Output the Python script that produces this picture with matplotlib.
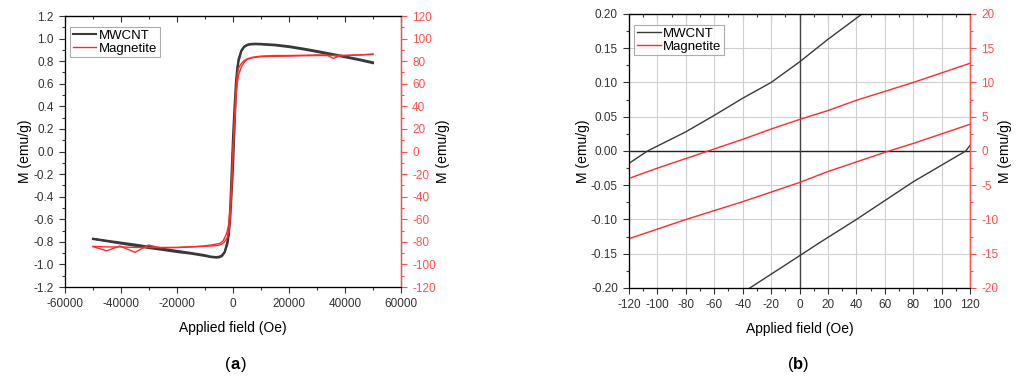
import matplotlib
matplotlib.use("Agg")
import matplotlib.pyplot as plt
from matplotlib.ticker import MultipleLocator, NullFormatter
import numpy as np

# ─────────────────────────────────────────────
# Data
# ─────────────────────────────────────────────
# (a) full loop, MWCNT on left axis (emu/g)
mw_up_H = [-50000, -45000, -40000, -35000, -30000, -25000, -20000, -15000,
           -10000, -8000, -6000, -5000, -4000, -3000, -2000, -1500, -1000,
           -500, 0, 500, 1000, 1500, 2000, 3000, 4000, 5000, 6000, 8000,
           10000, 15000, 20000, 25000, 30000, 35000, 40000, 45000, 50000]
mw_up_M = [-0.775, -0.795, -0.815, -0.835, -0.855, -0.872, -0.89, -0.905,
           -0.925, -0.935, -0.94, -0.938, -0.928, -0.895, -0.82, -0.74, -0.60,
           -0.38, -0.15, 0.18, 0.50, 0.70, 0.80, 0.89, 0.925, 0.94, 0.947, 0.95,
           0.948, 0.94, 0.925, 0.905, 0.882, 0.858, 0.835, 0.81, 0.782]
mw_dn_H = mw_up_H[::-1]
mw_dn_M = [0.79, 0.817, 0.842, 0.866, 0.89, 0.912, 0.932, 0.946, 0.953,
           0.955, 0.952, 0.945, 0.93, 0.895, 0.82, 0.74, 0.60, 0.38, 0.13,
           -0.18, -0.50, -0.70, -0.80, -0.89, -0.92, -0.932, -0.935, -0.93,
           -0.918, -0.898, -0.88, -0.862, -0.843, -0.824, -0.807, -0.79, -0.772]

# (a) Magnetite on right axis (emu/g)
mg_up_H = [-50000, -45000, -40000, -35000, -30000, -25000, -20000, -15000,
           -10000, -7000, -5000, -4000, -3000, -2000, -1500, -1000, -500, 0,
           500, 1000, 1500, 2000, 3000, 4000, 5000, 7000, 10000, 15000, 20000,
           25000, 30000, 33500, 35800, 38200, 42000, 46000, 50000]
mg_up_M = [-84, -84.5, -84.5, -85, -85, -85, -85, -84.5,
           -84, -83.5, -83, -82, -80, -76, -71, -60, -35, -4.6,
           28, 55, 68, 74, 78, 80.5, 82, 83.5, 84.5, 85, 85,
           85.2, 85.5, 85.5, 82.5, 84.6, 85.2, 85.6, 86.4]
mg_dn_H = [50000, 45000, 40000, 35000, 30000, 25000, 20000, 15000, 10000,
           7000, 5000, 4000, 3000, 2000, 1500, 1000, 500, 0, -500, -1000,
           -1500, -2000, -2500, -3500, -4600, -7000, -10000, -14000, -20000,
           -26000, -30200, -35000, -40400, -45100, -50000]
mg_dn_M = [86, 85.5, 85.2, 85, 85, 84.8, 84.5, 84.3, 84,
           83, 81.5, 79, 75, 68, 60, 45, 20, 4.6, -25, -50,
           -64, -70, -74, -79, -81.3, -82.5, -83.5, -84.3, -85,
           -85.2, -82.8, -89.3, -83.7, -87.9, -84.3]

# (b) low-field zoom
b_mw_up_H = [-120, -107, -80, -60, -40, -20, 0, 20, 44]
b_mw_up_M = [-0.018, 0.0, 0.028, 0.052, 0.077, 0.10, 0.13, 0.163, 0.20]
b_mw_dn_H = [-35, 0, 14, 40, 80, 117, 120]
b_mw_dn_M = [-0.20, -0.153, -0.134, -0.10, -0.045, 0.0, 0.008]

b_mg_H = [-120, -100, -80, -60, -40, -20, 0, 20, 40, 60, 80, 100, 120]
b_mg_up_M = [-4.0, -2.5, -1.1, 0.3, 1.7, 3.2, 4.6, 5.9, 7.4, 8.7, 10.0, 11.4, 12.8]
b_mg_dn_M = [-12.8, -11.4, -10.0, -8.7, -7.4, -6.0, -4.6, -3.0, -1.6, -0.2, 1.1, 2.5, 3.9]

# ─────────────────────────────────────────────
# Style
# ─────────────────────────────────────────────
C_BLK = "#3a3a3a"
C_RED = "#ff2a2a"
C_RAX = "#ff5050"
C_TXT = "#333333"
C_GRID = "#d0d0d0"
plt.rcParams["font.family"] = ["Liberation Sans", "DejaVu Sans"]
plt.rcParams["axes.unicode_minus"] = False

TICK_FS = 8.5
LABEL_FS = 10

fig = plt.figure(figsize=(10.19, 3.81), dpi=100)


def style_axes(ax, axr, xmaj, xmin, ymaj, ymin, rmaj, rmin, fmt):
    ax.xaxis.set_major_locator(MultipleLocator(xmaj))
    ax.xaxis.set_minor_locator(MultipleLocator(xmin))
    ax.yaxis.set_major_locator(MultipleLocator(ymaj))
    ax.yaxis.set_minor_locator(MultipleLocator(ymin))
    axr.yaxis.set_major_locator(MultipleLocator(rmaj))
    axr.yaxis.set_minor_locator(MultipleLocator(rmin))
    ax.yaxis.set_major_formatter(plt.FuncFormatter(lambda v, p: fmt.format(v)))
    ax.tick_params(axis="both", which="both", direction="out", colors=C_TXT,
                   labelsize=TICK_FS, width=0.8, top=False)
    ax.tick_params(which="major", length=4.5)
    ax.tick_params(which="minor", length=2.5)
    axr.tick_params(axis="y", which="both", direction="out", colors=C_RAX,
                    labelsize=TICK_FS, width=0.8)
    axr.tick_params(which="major", length=4.5)
    axr.tick_params(which="minor", length=2.5)
    # mirror axis on top with inward ticks, no labels
    top = ax.secondary_xaxis("top")
    top.xaxis.set_major_locator(MultipleLocator(xmaj))
    top.xaxis.set_minor_locator(MultipleLocator(xmin))
    top.xaxis.set_major_formatter(NullFormatter())
    top.tick_params(axis="x", which="both", direction="in", colors=C_TXT, width=0.8)
    top.tick_params(which="major", length=4.5)
    top.tick_params(which="minor", length=2.5)
    top.spines["top"].set_color(C_TXT)
    for s in ["left", "bottom", "top"]:
        ax.spines[s].set_color(C_TXT)
        ax.spines[s].set_linewidth(0.9)
    axr.spines["right"].set_color(C_RAX)
    axr.spines["right"].set_linewidth(1.0)
    ax.set_xlabel("Applied field (Oe)", fontsize=LABEL_FS, color="black", labelpad=8)
    ax.set_ylabel("M (emu/g)", fontsize=LABEL_FS, color="black", labelpad=1)
    axr.set_ylabel("M (emu/g)", fontsize=LABEL_FS, color="black", labelpad=0)


def add_legend(ax):
    leg = ax.legend(loc="upper left", bbox_to_anchor=(0.015, 0.96),
                    fontsize=9.5, frameon=True, fancybox=False,
                    borderpad=0.2, handlelength=1.8, handletextpad=0.2,
                    labelspacing=0.05, borderaxespad=0.0)
    leg.get_frame().set_edgecolor("#999999")
    leg.get_frame().set_linewidth(0.8)


def panel_tag(x, letter):
    fig.text(x, 0.042, "(", fontsize=12, ha="right", va="center")
    fig.text(x, 0.042, letter, fontsize=12, fontweight="bold", ha="left", va="center")
    fig.text(x + 0.0095, 0.042, ")", fontsize=12, ha="left", va="center")


# ── Panel (a) ──────────────────────────────────
axa = fig.add_axes([0.0638, 0.2467, 0.3297, 0.7113])
axa_r = axa.twinx()
axa.plot(mw_up_H, mw_up_M, color=C_BLK, lw=1.5, label="MWCNT")
axa.plot(mw_dn_H, mw_dn_M, color=C_BLK, lw=1.5)
axa_r.plot(mg_up_H, mg_up_M, color=C_RED, lw=1.0)
axa_r.plot(mg_dn_H, mg_dn_M, color=C_RED, lw=1.0)
axa.plot([], [], color=C_RED, lw=1.0, label="Magnetite")
axa.set_xlim(-60000, 60000)
axa.set_ylim(-1.2, 1.2)
axa_r.set_ylim(-120, 120)
style_axes(axa, axa_r, 20000, 10000, 0.2, 0.1, 20, 10, "{:.1f}")
add_legend(axa)
panel_tag(0.2265, "a")

# ── Panel (b) ──────────────────────────────────
axb = fig.add_axes([0.6173, 0.2441, 0.3346, 0.7192])
axb_r = axb.twinx()
axb.grid(True, which="major", color=C_GRID, lw=0.8)
axb.set_axisbelow(True)
axb.axhline(0, color="#222222", lw=1.0, zorder=1)
axb.axvline(0, color="#444444", lw=1.0, zorder=1)
axb.plot(b_mw_up_H, b_mw_up_M, color=C_BLK, lw=1.0, label="MWCNT")
axb.plot(b_mw_dn_H, b_mw_dn_M, color=C_BLK, lw=1.0)
axb_r.plot(b_mg_H, b_mg_up_M, color=C_RED, lw=1.0)
axb_r.plot(b_mg_H, b_mg_dn_M, color=C_RED, lw=1.0)
axb.plot([], [], color=C_RED, lw=1.0, label="Magnetite")
axb.set_xlim(-120, 120)
axb.set_ylim(-0.2, 0.2)
axb_r.set_ylim(-20, 20)
style_axes(axb, axb_r, 20, 10, 0.05, 0.025, 5, 2.5, "{:.2f}")
add_legend(axb)
panel_tag(0.7785, "b")

fig.savefig("out.png", dpi=100)
